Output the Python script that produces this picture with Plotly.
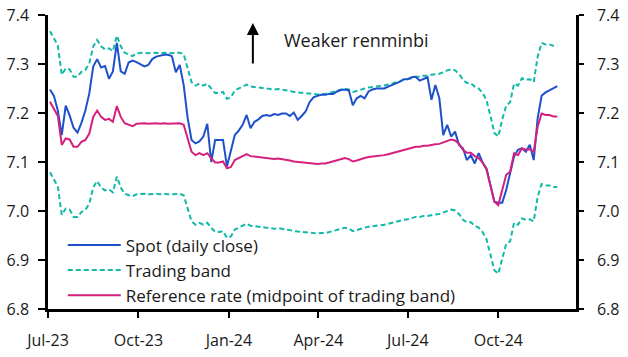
import plotly.graph_objects as go
import pandas as pd

# Observation dates (every 4 days from early July 2023 to late Nov 2024)
dates = pd.date_range("2023-07-03", periods=130, freq="4D")

spot = [7.248, 7.235, 7.205, 7.155, 7.215, 7.195, 7.170, 7.160, 7.180, 7.205,
        7.240, 7.295, 7.310, 7.293, 7.296, 7.270, 7.285, 7.343, 7.285, 7.280,
        7.303, 7.307, 7.304, 7.299, 7.295, 7.298, 7.310, 7.315, 7.317, 7.319,
        7.319, 7.316, 7.283, 7.298, 7.257, 7.190, 7.145, 7.138, 7.142, 7.152,
        7.178, 7.100, 7.145, 7.145, 7.145, 7.091, 7.125, 7.155, 7.164, 7.176,
        7.196, 7.169, 7.182, 7.187, 7.194, 7.196, 7.194, 7.198, 7.196, 7.199,
        7.199, 7.194, 7.201, 7.186, 7.194, 7.203, 7.222, 7.232, 7.235, 7.237,
        7.237, 7.239, 7.239, 7.244, 7.247, 7.248, 7.246, 7.216, 7.230, 7.235,
        7.230, 7.244, 7.248, 7.250, 7.250, 7.250, 7.254, 7.257, 7.261, 7.264,
        7.269, 7.269, 7.273, 7.274, 7.266, 7.269, 7.273, 7.227, 7.257, 7.230,
        7.155, 7.176, 7.152, 7.162, 7.135, 7.128, 7.104, 7.114, 7.097, 7.118,
        7.099, 7.087, 7.055, 7.019, 7.017, 7.017, 7.043, 7.076, 7.111, 7.125,
        7.128, 7.121, 7.135, 7.104, 7.189, 7.235, 7.242, 7.246, 7.250, 7.255]

reference = [7.223, 7.208, 7.194, 7.135, 7.148, 7.146, 7.131, 7.131, 7.141, 7.145,
             7.158, 7.192, 7.205, 7.192, 7.186, 7.188, 7.182, 7.214, 7.192, 7.179,
             7.176, 7.173, 7.178, 7.179, 7.179, 7.178, 7.179, 7.179, 7.178, 7.179,
             7.178, 7.178, 7.179, 7.179, 7.176, 7.148, 7.121, 7.114, 7.118, 7.114,
             7.118, 7.108, 7.099, 7.099, 7.101, 7.087, 7.090, 7.104, 7.108, 7.111,
             7.116, 7.112, 7.111, 7.110, 7.108, 7.108, 7.106, 7.106, 7.107, 7.106,
             7.104, 7.103, 7.101, 7.100, 7.099, 7.099, 7.097, 7.096, 7.096, 7.097,
             7.097, 7.099, 7.101, 7.104, 7.106, 7.108, 7.106, 7.101, 7.103, 7.106,
             7.108, 7.110, 7.111, 7.111, 7.113, 7.114, 7.116, 7.118, 7.120, 7.123,
             7.125, 7.126, 7.128, 7.131, 7.131, 7.133, 7.133, 7.135, 7.136, 7.137,
             7.140, 7.144, 7.146, 7.144, 7.137, 7.125, 7.119, 7.119, 7.112, 7.108,
             7.099, 7.084, 7.053, 7.019, 7.012, 7.046, 7.074, 7.080, 7.118, 7.114,
             7.128, 7.125, 7.126, 7.121, 7.172, 7.199, 7.196, 7.196, 7.193, 7.193]

band_upper = [7.367, 7.352, 7.338, 7.278, 7.291, 7.289, 7.274, 7.274, 7.284, 7.288,
              7.301, 7.336, 7.349, 7.336, 7.330, 7.332, 7.326, 7.358, 7.336, 7.323,
              7.320, 7.316, 7.322, 7.323, 7.323, 7.322, 7.323, 7.323, 7.322, 7.323,
              7.322, 7.322, 7.323, 7.323, 7.320, 7.291, 7.263, 7.256, 7.260, 7.256,
              7.260, 7.250, 7.241, 7.241, 7.243, 7.229, 7.232, 7.246, 7.250, 7.253,
              7.258, 7.254, 7.253, 7.252, 7.250, 7.250, 7.248, 7.248, 7.249, 7.248,
              7.246, 7.245, 7.243, 7.242, 7.241, 7.241, 7.239, 7.238, 7.238, 7.239,
              7.239, 7.241, 7.243, 7.246, 7.248, 7.250, 7.248, 7.243, 7.245, 7.248,
              7.250, 7.252, 7.253, 7.253, 7.255, 7.256, 7.258, 7.260, 7.262, 7.265,
              7.268, 7.269, 7.271, 7.274, 7.274, 7.276, 7.276, 7.278, 7.279, 7.280,
              7.283, 7.287, 7.289, 7.287, 7.280, 7.268, 7.261, 7.261, 7.254, 7.250,
              7.241, 7.226, 7.194, 7.159, 7.152, 7.187, 7.215, 7.222, 7.260, 7.256,
              7.271, 7.268, 7.269, 7.263, 7.315, 7.343, 7.340, 7.340, 7.337, 7.337]

band_lower = [7.079, 7.064, 7.050, 6.992, 7.005, 7.003, 6.988, 6.988, 6.998, 7.002,
              7.015, 7.048, 7.061, 7.048, 7.042, 7.044, 7.038, 7.070, 7.048, 7.035,
              7.032, 7.030, 7.034, 7.035, 7.035, 7.034, 7.035, 7.035, 7.034, 7.035,
              7.034, 7.034, 7.035, 7.035, 7.032, 7.005, 6.979, 6.972, 6.976, 6.972,
              6.976, 6.966, 6.957, 6.957, 6.959, 6.945, 6.948, 6.962, 6.966, 6.969,
              6.974, 6.970, 6.969, 6.968, 6.966, 6.966, 6.964, 6.964, 6.965, 6.964,
              6.962, 6.961, 6.959, 6.958, 6.957, 6.957, 6.955, 6.954, 6.954, 6.955,
              6.955, 6.957, 6.959, 6.962, 6.964, 6.966, 6.964, 6.959, 6.961, 6.964,
              6.966, 6.968, 6.969, 6.969, 6.971, 6.972, 6.974, 6.976, 6.978, 6.981,
              6.982, 6.983, 6.985, 6.988, 6.988, 6.990, 6.990, 6.992, 6.993, 6.994,
              6.997, 7.001, 7.003, 7.001, 6.994, 6.982, 6.977, 6.977, 6.970, 6.966,
              6.957, 6.942, 6.912, 6.879, 6.872, 6.905, 6.933, 6.938, 6.976, 6.972,
              6.985, 6.982, 6.983, 6.979, 7.029, 7.055, 7.052, 7.052, 7.049, 7.049]

y_range = [6.8, 7.4]

BLUE = "#1F50CC"
TEAL = "#12B9A6"
PINK = "#D5207E"
FONT = "Open Sans"
TXT = "#1a1a1a"
FS = 16

fig = go.Figure()
fig.add_trace(go.Scatter(x=dates, y=band_upper, name="Trading band", mode="lines",
                         line=dict(color=TEAL, width=2, dash="5px,3px"),
                         legendgroup="band", legendrank=2))
fig.add_trace(go.Scatter(x=dates, y=band_lower, name="Trading band", mode="lines",
                         line=dict(color=TEAL, width=2, dash="5px,3px"),
                         legendgroup="band", showlegend=False, yaxis="y2"))
fig.add_trace(go.Scatter(x=dates, y=spot, name="Spot (daily close)", mode="lines",
                         line=dict(color=BLUE, width=2), legendrank=1))
fig.add_trace(go.Scatter(x=dates, y=reference, name="Reference rate (midpoint of trading band)",
                         mode="lines", line=dict(color=PINK, width=2), legendrank=3))

axis_common = dict(showline=True, linecolor="black", linewidth=2.5, showgrid=False,
                   zeroline=False, ticks="outside", tickcolor="black", tickwidth=2,
                   automargin=False,
                   tickfont=dict(family=FONT, size=FS, color=TXT))

fig.update_layout(
    width=628, height=357,
    margin=dict(l=48, r=52, t=15, b=48),
    paper_bgcolor="white", plot_bgcolor="white",
    font=dict(family=FONT, size=FS, color=TXT),
    xaxis=dict(type="date", range=["2023-07-01", "2024-12-19"], dtick="M3",
               tick0="2023-07-01", tickformat="%b-%y", ticklen=6,
               ticklabelstandoff=9, **axis_common),
    yaxis=dict(range=y_range, dtick=0.1, tickformat=".1f", ticklen=7,
               ticklabelstandoff=6, **axis_common),
    yaxis2=dict(range=y_range, dtick=0.1, tickformat=".1f", ticklen=5,
                overlaying="y", side="right", ticklabelstandoff=10, **axis_common),
    legend=dict(x=0.028, y=-0.015, xanchor="left", yanchor="bottom",
                bgcolor="rgba(0,0,0,0)", font=dict(family=FONT, size=17, color=TXT),
                tracegroupgap=0, itemwidth=53),
    showlegend=True,
    annotations=[
        dict(xref="paper", yref="paper", x=0.388, y=0.973, ax=0, ay=42,
             showarrow=True, arrowhead=2, arrowsize=1.2, arrowwidth=2,
             arrowcolor="black", text=""),
        dict(xref="paper", yref="paper", x=0.443, y=0.915, xanchor="left",
             yanchor="middle", showarrow=False, text="Weaker renminbi",
             font=dict(family=FONT, size=18, color=TXT)),
    ],
)

fig.write_html("out.html", config={"displayModeBar": False},
               post_script="document.body.style.margin='0';")
